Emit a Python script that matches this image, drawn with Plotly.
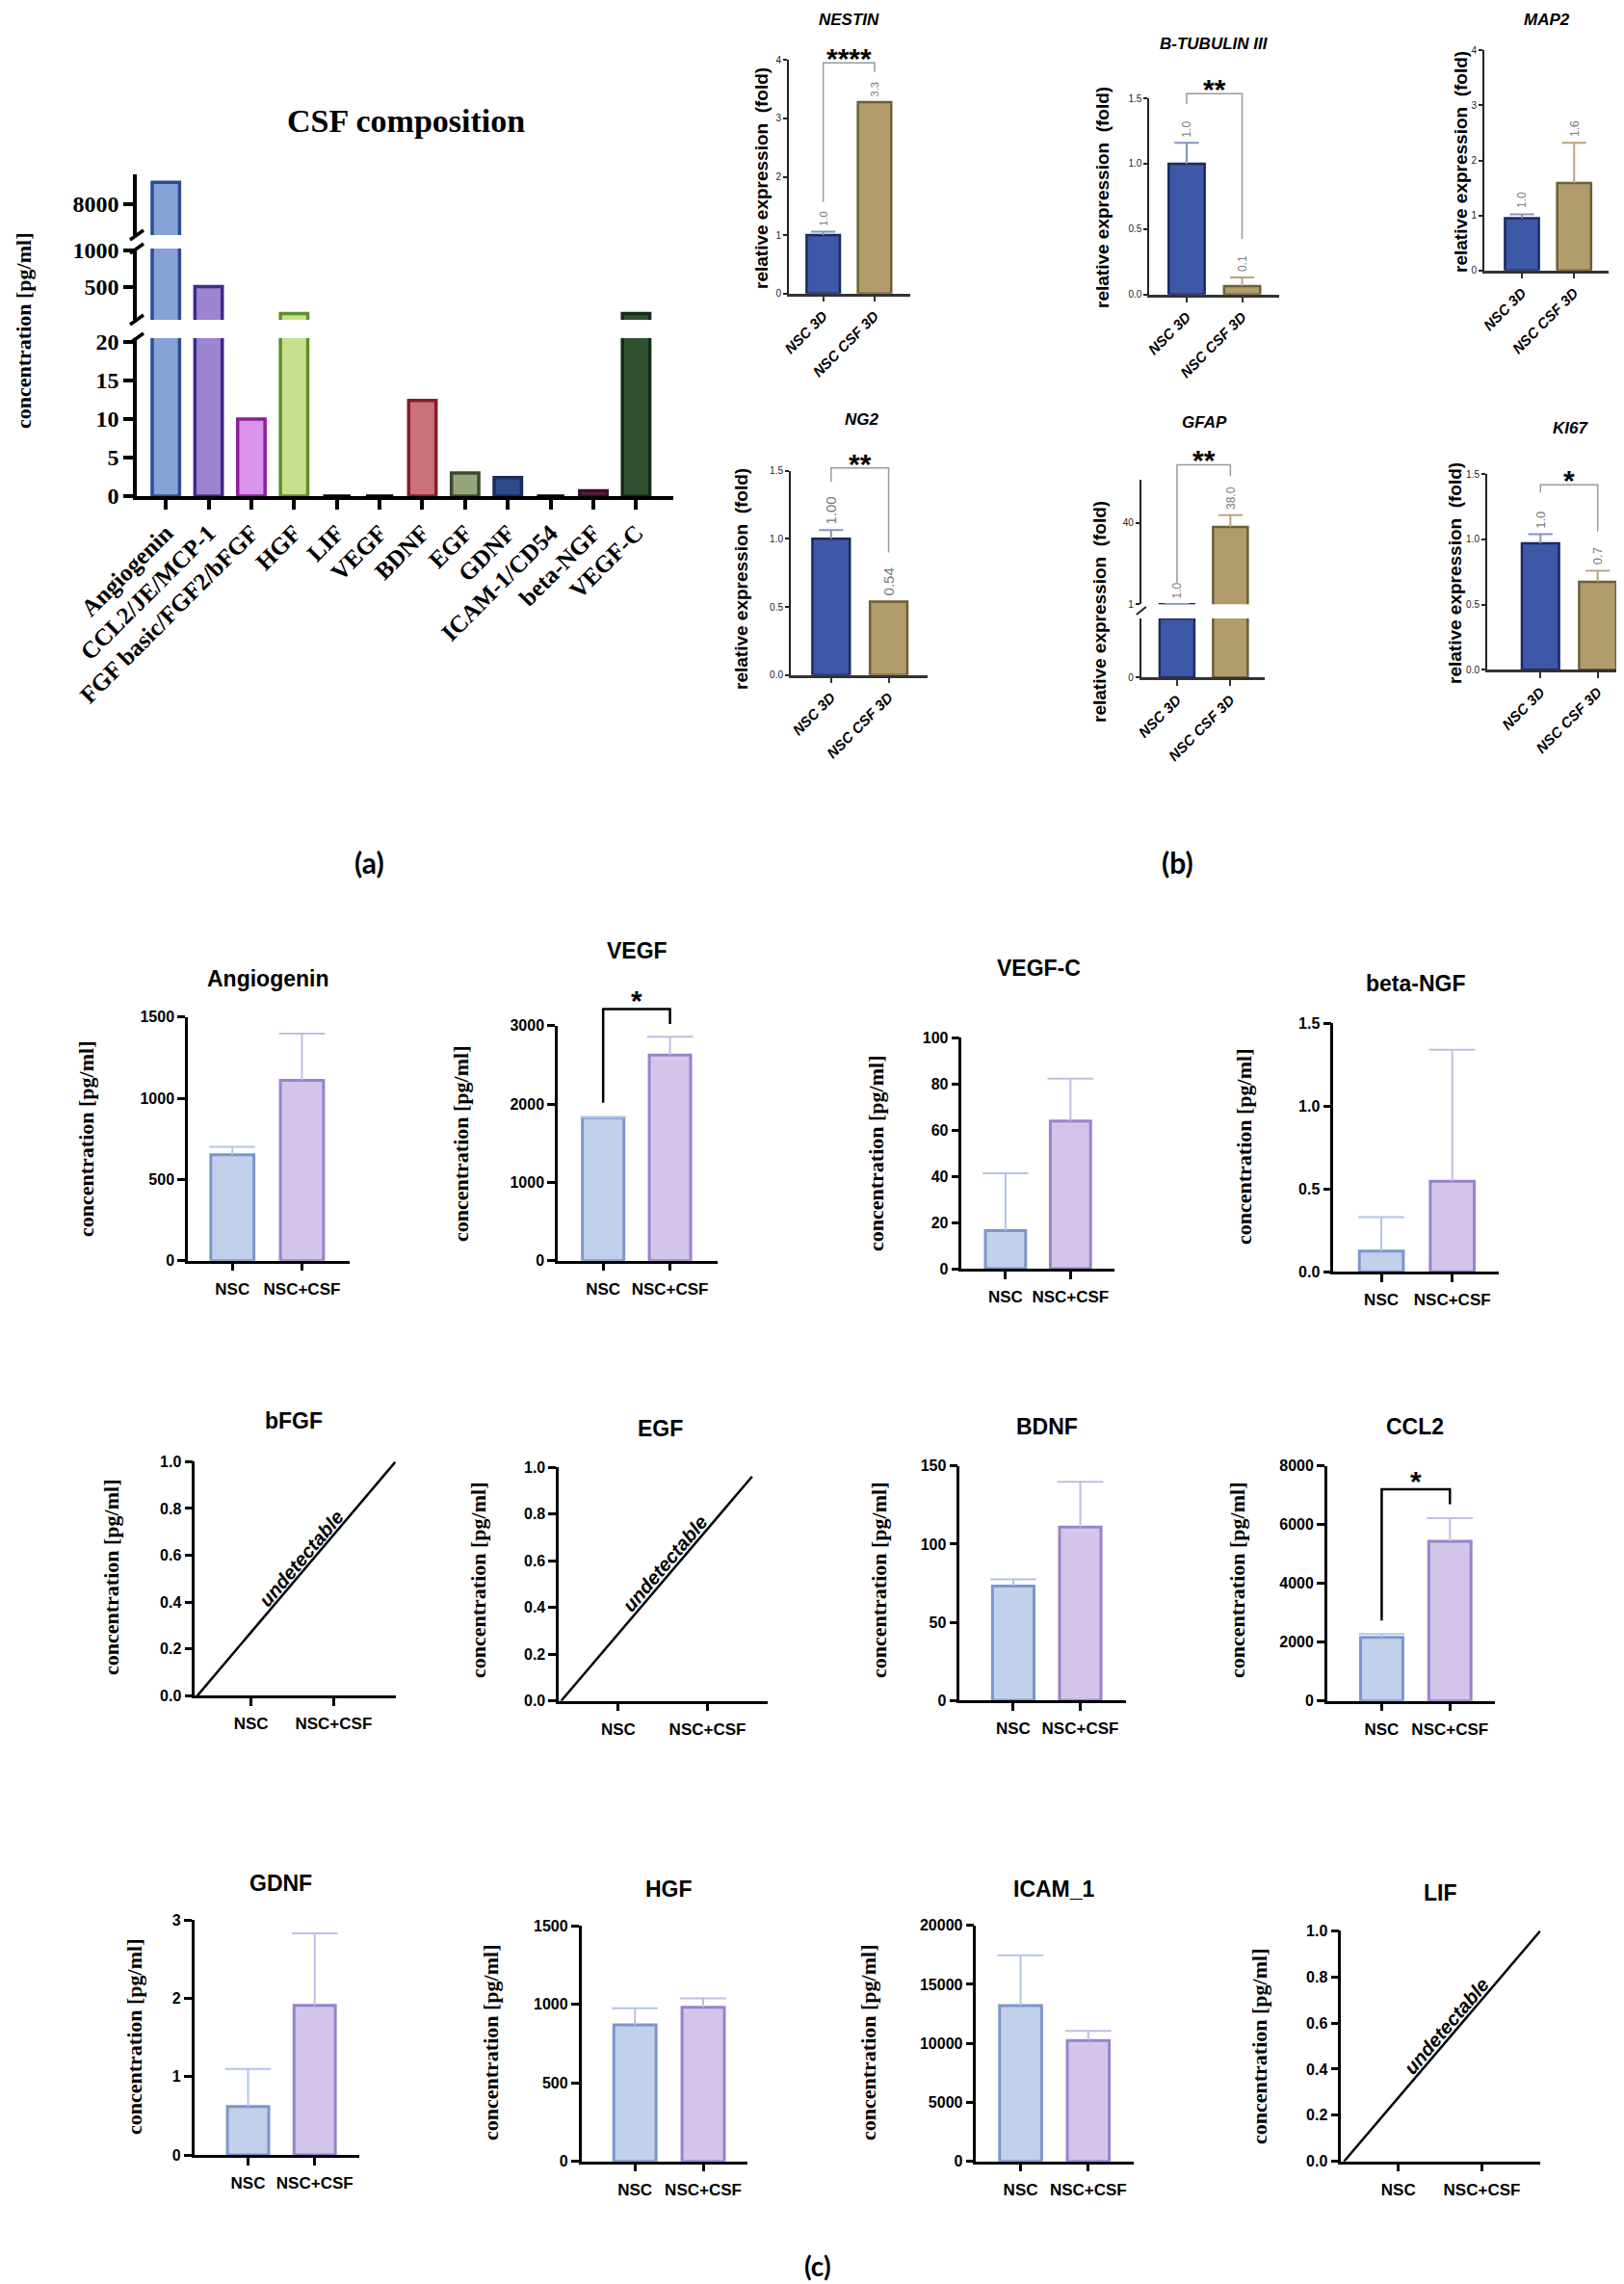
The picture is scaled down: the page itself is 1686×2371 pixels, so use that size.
import math
import plotly.graph_objects as go

W, H = 1686, 2371
SANS = "Liberation Sans, Arial, sans-serif"
SERIF = "Liberation Serif, Times New Roman, serif"

# ---------------- (a) CSF composition
csf_factors = ["Angiogenin", "CCL2/JE/MCP-1", "FGF basic/FGF2/bFGF", "HGF", "LIF", "VEGF",
               "BDNF", "EGF", "GDNF", "ICAM-1/CD54", "beta-NGF", "VEGF-C"]
csf_conc = [8300, 505, 10.0, 137, 0, 0, 12.4, 3.0, 2.4, 0, 0.7, 137]
csf_ticks_low = [0, 5, 10, 15, 20]
csf_ticks_mid = [500, 1000]
csf_ticks_top = [8000]

# ---------------- (b) qPCR, relative expression (fold)
genes = ["NESTIN", "B-TUBULIN III", "MAP2", "NG2", "GFAP", "KI67"]
qpcr_groups = ["NSC 3D", "NSC CSF 3D"]
qpcr_mean = [[1.0, 3.28], [1.0, 0.064], [0.95, 1.59], [1.0, 0.54], [1.0, 38.0], [0.97, 0.675]]
qpcr_err = [[0.06, 0.0], [0.16, 0.066], [0.07, 0.73], [0.065, 0.0], [0.1, 5.7], [0.07, 0.085]]
qpcr_text = [["1.0", "3.3"], ["1.0", "0.1"], ["1.0", "1.6"], ["1.00", "0.54"], ["1.0", "38.0"], ["1.0", "0.7"]]
qpcr_stars = ["****", "**", "", "**", "**", "*"]
# bracket: top, end of left leg, end of right leg
qpcr_bracket = [[3.95, 1.57, 3.8], [1.535, 1.455, 0.425], None, [1.52, 1.42, 0.90],
                [67.8, 11.4, 62.3], [1.42, 1.36, 1.06]]
qpcr_ymax = [4, 1.5, 4, 1.5, 60.6, 1.5]
qpcr_yticks = [[0, 1, 2, 3, 4], [0, 0.5, 1.0, 1.5], [0, 1, 2, 3, 4], [0, 0.5, 1.0, 1.5], [1, 40], [0, 0.5, 1.0, 1.5]]
gfap_low_ticks = [0]

# ---------------- (c) cytokines secreted
cyto = ["Angiogenin", "VEGF", "VEGF-C", "beta-NGF", "bFGF", "EGF",
        "BDNF", "CCL2", "GDNF", "HGF", "ICAM_1", "LIF"]
cyto_groups = ["NSC", "NSC+CSF"]
cyto_mean = [[652, 1110], [1824, 2623], [16.5, 63.9], [0.126, 0.547], None, None,
             [73.1, 110.9], [2164, 5432], [0.62, 1.91], [869, 980], [13197, 10231], None]
cyto_sd = [[49, 287], [6, 234], [24.7, 18.3], [0.204, 0.793], None, None,
           [4.3, 28.9], [109, 787], [0.48, 0.92], [106, 57], [4272, 817], None]
cyto_ymax = [1500, 3000, 100, 1.5, 1.0, 1.0, 150, 8000, 3, 1500, 20000, 1.0]
cyto_dtick = [500, 1000, 20, 0.5, 0.2, 0.2, 50, 2000, 1, 500, 5000, 0.2]
cyto_stars = ["", "*", "", "", "", "", "", "*", "", "", "", ""]
cyto_bracket = [None, [3213, 2016, 3020], None, None, None, None,
                None, [7202, 2732, 6699], None, None, None, None]
undet_names = ["bFGF", "EGF", "LIF"]
undet_x = [[-0.65, 1.75], [-0.64, 1.50], [-0.65, 1.70]]
undet_y = [[0, 1.0], [0, 0.96], [0, 1.0]]

# ---------------- colours
csf_fill = ["#87a2d6", "#9b86cf", "#d993e8", "#c7df8f", "#ffffff", "#ffffff",
            "#c97378", "#97a57a", "#2d4a8a", "#ffffff", "#6b1f4e", "#2e5230"]
csf_edge = ["#2b4c96", "#3e2a8c", "#8c1f9c", "#5f8f2a", "#000000", "#000000",
            "#8c1b22", "#3e4a2e", "#1a2c5c", "#000000", "#3a0f2a", "#152b17"]
qpcr_fill = ["#3d58a6", "#b19c6c"]
qpcr_edge = ["#1c2b5e", "#6e5e38"]
qpcr_errc = ["#8494bf", "#b9a57b"]
cyto_fill = ["#c1d0eb", "#d2c5e9"]
cyto_edge = ["#7c96ca", "#9a82cb"]
cyto_errc = ["#b3c3e6", "#c7b9e6"]

fig = go.Figure()
axes = {}
count = {"x": 0, "y": 0}


def new_name(letter):
    count[letter] += 1
    return letter if count[letter] == 1 else f"{letter}{count[letter]}"


def key(name):
    return name[0] + "axis" + name[1:]


def fx(px):
    return px / W


def fy(py):
    return 1 - py / H


def chart(l, r, xrange, segs, xstyle, ystyle):
    # segs: (top px, bottom px, y range, extra y settings), first one carries the x axis
    xn = new_name("x")
    yns = [new_name("y") for _ in segs]
    for yn, (t, b, yr, extra) in zip(yns, segs):
        axes[key(yn)] = dict(domain=[fy(b), fy(t)], range=yr, anchor=xn, automargin=False,
                             **{**ystyle, **extra})
    axes[key(xn)] = dict(domain=[fx(l), fx(r)], range=xrange, anchor=yns[0], automargin=False, **xstyle)
    return xn, yns


def hidden_y(xn, t, b, yr, extra_px):
    # invisible axis with the same scale, taller so brackets are not clipped
    yn = new_name("y")
    t2 = t - extra_px
    top = yr[0] + (yr[1] - yr[0]) * (b - t2) / (b - t)
    axes[key(yn)] = dict(domain=[fy(b), fy(t2)], range=[yr[0], top], anchor=xn, visible=False,
                         automargin=False)
    return yn


def text(x, y, s, size, family=SANS, weight="bold", style="normal", angle=0, color="black"):
    fig.add_annotation(x=fx(x), y=fy(y), xref="paper", yref="paper", text=s, showarrow=False,
                       textangle=angle, xanchor="center", yanchor="middle",
                       font=dict(family=family, size=size, color=color, weight=weight, style=style))


def err_marks(xn, yn, means, errs, colors, cap, width):
    for i, (m, e) in enumerate(zip(means, errs)):
        if e <= 0:
            continue
        fig.add_trace(go.Scatter(x=[i, i], y=[m, m + e], mode="lines", xaxis=xn, yaxis=yn,
                                 line=dict(color=colors[i], width=width), hoverinfo="skip"))
        fig.add_trace(go.Scatter(x=[i], y=[m + e], mode="markers", xaxis=xn, yaxis=yn, hoverinfo="skip",
                                 marker=dict(symbol="line-ew", size=cap,
                                             line=dict(color=colors[i], width=width))))


def bracket(xn, yn, br, star, color, width, size, shift):
    top, left_end, right_end = br
    fig.add_trace(go.Scatter(x=[0, 0, 1, 1], y=[left_end, top, top, right_end], mode="lines",
                             xaxis=xn, yaxis=yn, line=dict(color=color, width=width), hoverinfo="skip"))
    fig.add_annotation(x=0.5, y=top, xref=xn, yref=yn, text=star, showarrow=False, yanchor="middle",
                       yshift=shift, font=dict(family=SANS, size=size, color="black", weight="bold"))


# ======================= (a) =======================
a_y = dict(showline=True, linecolor="black", linewidth=3.5, ticks="outside", ticklen=10, tickwidth=3.5,
           tickcolor="black", showgrid=False, zeroline=False,
           tickfont=dict(family=SERIF, size=24, color="black", weight="bold"))
a_x = dict(showline=True, linecolor="black", linewidth=3.5, ticks="outside", ticklen=10, tickwidth=3.5,
           tickcolor="black", showgrid=False, zeroline=False, tickangle=-45,
           tickvals=list(range(len(csf_factors))), ticktext=csf_factors,
           tickfont=dict(family=SERIF, size=25, color="black", weight="bold"))
a_segs = [(343, 507, [0, 20.5], dict(tickvals=csf_ticks_low)),
          (250, 324, [53, 1026], dict(tickvals=csf_ticks_mid)),
          (173, 236, [7579, 8408], dict(tickvals=csf_ticks_top))]
xa, ya = chart(134, 691, [-0.68, 11.87], a_segs, a_x, a_y)
for yn in ya:
    fig.add_trace(go.Bar(x=list(range(len(csf_factors))), y=csf_conc, width=0.64, xaxis=xa, yaxis=yn,
                         marker=dict(color=csf_fill, line=dict(color=csf_edge, width=3.5)), hoverinfo="skip"))
for yb in [236, 250, 324, 343]:
    fig.add_shape(type="line", xref="paper", yref="paper", x0=fx(127), y0=fy(yb + 5), x1=fx(141), y1=fy(yb - 5),
                  line=dict(color="black", width=3.5))
text(413, 118, "CSF composition", 34, family=SERIF)
text(16, 336, "concentration [pg/ml]", 22, family=SERIF, angle=-90)

# ======================= (b) =======================
b_y = dict(showline=True, linecolor="#222222", linewidth=2, ticks="outside", ticklen=4, tickwidth=1.5,
           tickcolor="#222222", showgrid=False, zeroline=False,
           tickfont=dict(family=SANS, size=10, color="#222222"))
b_x = dict(showline=True, linecolor="#333333", linewidth=2.5, ticks="outside", ticklen=6, tickwidth=1.5,
           tickcolor="#333333", showgrid=False, zeroline=False, tickangle=-45,
           tickvals=[0, 1], ticktext=qpcr_groups,
           tickfont=dict(family=SANS, size=15, color="black", weight="bold", style="italic"))
b_boxes = [(811, 936.7, 54.3, 296.7), (1185.4, 1319.5, 94, 297.7), (1533, 1662, 44.3, 272.7),
           (813, 954.6, 480.7, 692.7), (1176.8, 1305.4, 490, 619.3), (1536, 1684, 484.3, 687.3)]
b_xrange = [[-0.67, 1.69], [-0.67, 1.66], [-0.72, 1.66], [-0.70, 1.67], [-0.67, 1.65], [-0.93, 1.56]]
b_fmt = ["d", ".1f", "d", ".1f", "d", ".1f"]
b_titles = [(873, 13), (1252, 37), (1598, 13), (887, 428), (1242, 430), (1622, 437)]
b_ytitles = [(782, 177), (1136, 197), (1508, 160), (761, 593), (1133, 627), (1502, 587)]
b_lab_size = [11, 12, 12, 15, 12, 13]

for g, gene in enumerate(genes):
    l, r, t, b = b_boxes[g]
    yr = [1, qpcr_ymax[g]] if gene == "GFAP" else [0, qpcr_ymax[g]]
    segs = []
    if gene == "GFAP":
        segs.append((634, 695.3, [0, 1.0], dict(tickvals=gfap_low_ticks, tickformat="d")))
    segs.append((t, b, yr, dict(tickvals=qpcr_yticks[g], tickformat=b_fmt[g])))
    xn, yns = chart(l, r, b_xrange[g], segs, b_x, b_y)
    ymain = yns[-1]
    for yn in yns:
        fig.add_trace(go.Bar(x=[0, 1], y=qpcr_mean[g], width=0.65, xaxis=xn, yaxis=yn, hoverinfo="skip",
                             marker=dict(color=qpcr_fill, line=dict(color=qpcr_edge, width=2.5))))
    err_marks(xn, ymain, qpcr_mean[g], qpcr_err[g], qpcr_errc, 18, 2)
    for i in range(2):
        fig.add_annotation(x=i, y=qpcr_mean[g][i] + qpcr_err[g][i], xref=xn, yref=ymain, text=qpcr_text[g][i],
                           showarrow=False, textangle=-90, yanchor="bottom", yshift=4,
                           font=dict(family=SANS, size=b_lab_size[g], color="#7a7a7a"))
    if qpcr_bracket[g]:
        yb = hidden_y(xn, t, b, yr, 45)
        bracket(xn, yb, qpcr_bracket[g], qpcr_stars[g], "#9a9a9a", 1.5, 30, 4.5)
    if gene == "GFAP":
        fig.add_shape(type="line", xref="paper", yref="paper", x0=fx(l - 5), y0=fy(630), x1=fx(l + 5),
                      y1=fy(622), line=dict(color="#222222", width=2))
    text(b_titles[g][0], b_titles[g][1], gene, 17, style="italic")
    text(b_ytitles[g][0], b_ytitles[g][1], "relative expression  (fold)", 19, angle=-90)

# ======================= (c) =======================
c_y = dict(showline=True, linecolor="black", linewidth=2.5, ticks="outside", ticklen=8, tickwidth=2.5,
           tickcolor="black", showgrid=False, zeroline=False,
           tickfont=dict(family=SANS, size=16, color="black", weight="bold"))
c_x = dict(showline=True, linecolor="black", linewidth=2.5, ticks="outside", ticklen=8, tickwidth=2.5,
           tickcolor="black", showgrid=False, zeroline=False, tickangle=0, ticklabelstandoff=4,
           tickvals=[0, 1], ticktext=cyto_groups,
           tickfont=dict(family=SANS, size=17, color="black", weight="bold"))
c_boxes = [(187, 355.3, 1047.7, 1300.7), (571, 736.8, 1056.7, 1300.7), (990.4, 1148.5, 1069, 1309),
           (1376.3, 1548.3, 1054.3, 1312.3), (194.3, 402.7, 1509.3, 1752.3), (572.2, 788.6, 1515, 1757.7),
           (988.3, 1160.8, 1513.7, 1757.3), (1369.8, 1544, 1513.7, 1757.7), (193.5, 365.1, 1985.3, 2229),
           (595.6, 768.4, 1991, 2235.7), (1005.4, 1168.9, 1990.7, 2235.7), (1384.3, 1591.2, 1996.3, 2235.7)]
c_xrange = [[-0.64, 1.69], [-0.68, 1.71], [-0.675, 1.67], [-0.676, 1.66], [-0.68, 1.75], [-0.665, 1.67],
            [-0.80, 1.68], [-0.80, 1.66], [-0.81, 1.67], [-0.785, 1.655], [-0.657, 1.67], [-0.685, 1.70]]
c_titles = [(270, 1008), (653, 979), (1070, 997), (1462, 1013), (297, 1467), (677, 1475),
            (1079, 1473), (1461, 1473), (283, 1947), (686, 1953), (1086, 1953), (1487, 1957)]
c_ytitles = [(81, 1175), (470, 1180), (901, 1190), (1284, 1183), (107, 1630), (488, 1633),
             (904, 1633), (1276, 1633), (131, 2107), (501, 2113), (893, 2113), (1299, 2117)]

for k, name in enumerate(cyto):
    l, r, t, b = c_boxes[k]
    yr = [0, cyto_ymax[k]]
    fmt = ".1f" if cyto_dtick[k] < 1 else "d"
    xn, (yn,) = chart(l, r, c_xrange[k], [(t, b, yr, dict(dtick=cyto_dtick[k], tick0=0, tickformat=fmt))],
                      c_x, c_y)
    if cyto_mean[k] is not None:
        fig.add_trace(go.Bar(x=[0, 1], y=cyto_mean[k], width=0.62, xaxis=xn, yaxis=yn, hoverinfo="skip",
                             marker=dict(color=cyto_fill, line=dict(color=cyto_edge, width=3))))
        err_marks(xn, yn, cyto_mean[k], cyto_sd[k], cyto_errc, 34, 2)
    else:
        u = undet_names.index(name)
        ux, uy = undet_x[u], undet_y[u]
        fig.add_trace(go.Scatter(x=ux, y=uy, mode="lines", xaxis=xn, yaxis=yn, hoverinfo="skip",
                                 line=dict(color="black", width=2.5)))
        ppx = (r - l) / (c_xrange[k][1] - c_xrange[k][0])
        ppy = (b - t) / (yr[1] - yr[0])
        a = math.atan2((uy[1] - uy[0]) * ppy, (ux[1] - ux[0]) * ppx)
        f = (0.56 - uy[0]) / (uy[1] - uy[0])
        fig.add_annotation(x=ux[0] + f * (ux[1] - ux[0]), y=0.56, xref=xn, yref=yn, text="undetectable",
                           showarrow=False, textangle=-math.degrees(a),
                           xshift=-10 * math.sin(a), yshift=10 * math.cos(a),
                           font=dict(family=SANS, size=20, color="black", weight="bold", style="italic"))
    if cyto_bracket[k]:
        yb = hidden_y(xn, t, b, yr, 60)
        bracket(xn, yb, cyto_bracket[k], cyto_stars[k], "black", 2.5, 30, 8.5)
    text(c_titles[k][0], c_titles[k][1], name, 23)
    text(c_ytitles[k][0], c_ytitles[k][1], "concentration [pg/ml]", 22, family=SERIF, angle=-90)

# panel letters
text(375, 887, "(a)", 30, family="Lato, Open Sans, sans-serif")
text(1214, 887, "(b)", 30, family="Lato, Open Sans, sans-serif")
text(841, 2344, "(c)", 28, family="Lato, Open Sans, sans-serif")

fig.update_layout(width=W, height=H, margin=dict(l=0, r=0, t=0, b=0, autoexpand=False), showlegend=False,
                  paper_bgcolor="white", plot_bgcolor="rgba(0,0,0,0)", hovermode=False, **axes)
fig.write_html("out.html")
